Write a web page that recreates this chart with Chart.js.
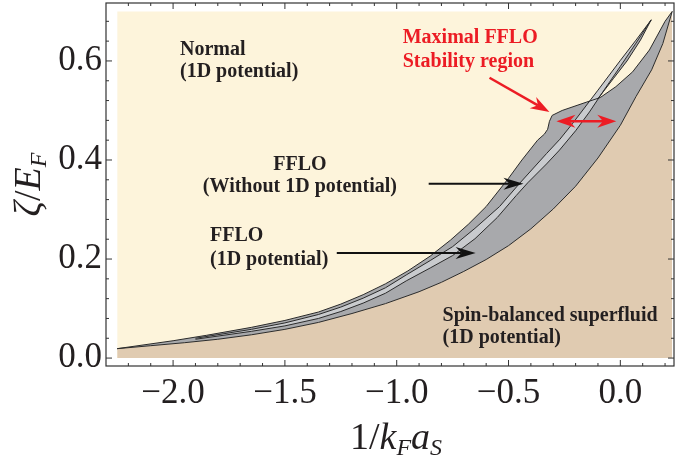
<!DOCTYPE html>
<html><head><meta charset="utf-8">
<script src="https://cdn.jsdelivr.net/npm/chart.js@4.4.1/dist/chart.umd.min.js"></script>
<style>html,body{margin:0;padding:0;background:#fff;}</style>
</head><body>
<canvas id="c" width="676" height="463"></canvas>
<script>
// ---- data ----
// boundary of the spin-balanced superfluid (lower edge of the 1D FFLO region)
const lowerX = [-2.25,-2.1,-1.95,-1.8,-1.65,-1.5,-1.35,-1.2,-1.05,-0.9,-0.8,-0.7,-0.6,-0.5,-0.4,-0.3,-0.2,-0.1,0.0,0.07,0.14,0.19,0.232];
const lowerY = [0.019,0.025,0.031,0.038,0.047,0.058,0.072,0.090,0.110,0.134,0.153,0.175,0.199,0.227,0.261,0.301,0.347,0.404,0.470,0.528,0.582,0.635,0.700];
// upper edge of the FFLO region with 1D potential
const upperX = [-2.25,-2.0,-1.85,-1.65,-1.5,-1.35,-1.25,-1.15,-1.05,-0.95,-0.85,-0.76,-0.68,-0.6,-0.5,-0.44,-0.37,-0.34,-0.325,-0.317,-0.305,-0.26,-0.15,-0.09,-0.02,0.055,0.13,0.2,0.232];
const upperY = [0.019,0.035,0.046,0.062,0.076,0.093,0.109,0.128,0.150,0.176,0.206,0.238,0.270,0.306,0.363,0.400,0.440,0.452,0.462,0.478,0.490,0.500,0.517,0.526,0.548,0.578,0.622,0.680,0.700];
// FFLO band without 1D potential: upper-left edge (A) and lower-right edge (B)
const bandAX = [-1.9,-1.65,-1.5,-1.35,-1.25,-1.15,-1.05,-0.957,-0.85,-0.75,-0.65,-0.54,-0.45,-0.33,-0.27,-0.213,-0.1,0.0,0.07,0.138];
const bandAY = [0.040,0.058,0.071,0.088,0.103,0.121,0.142,0.168,0.197,0.225,0.262,0.306,0.353,0.413,0.442,0.474,0.541,0.601,0.642,0.683];
const bandBX = [-1.9,-1.65,-1.5,-1.35,-1.25,-1.15,-1.05,-0.957,-0.85,-0.75,-0.65,-0.55,-0.466,-0.414,-0.33,-0.272,-0.2,-0.138,-0.07,0.0,0.07,0.138];
const bandBY = [0.038,0.054,0.065,0.080,0.094,0.111,0.131,0.156,0.182,0.207,0.241,0.284,0.328,0.354,0.392,0.420,0.459,0.497,0.543,0.589,0.636,0.683];
// outer edge of the wedge above the 1D region
const wedgeX = [-0.10,-0.03,0.03,0.09,0.138];
const wedgeY = [0.524,0.565,0.600,0.642,0.683];
// region extent
const regionX = [-2.25, 0.232];
const regionTop = 0.70;
// ticks
const xMajorTicks = [-2.0,-1.5,-1.0,-0.5,0.0];
const xMinorTicks = [-2.2,-2.1,-1.9,-1.8,-1.7,-1.6,-1.4,-1.3,-1.2,-1.1,-0.9,-0.8,-0.7,-0.6,-0.4,-0.3,-0.2,-0.1,0.1,0.2];
const yMajorTicks = [0.0,0.2,0.4,0.6];
const yMinorTicks = [0.04,0.08,0.12,0.16,0.24,0.28,0.32,0.36,0.44,0.48,0.52,0.56,0.64,0.68];

const pts = (xs, ys) => xs.map((x, i) => ({x, y: ys[i]}));
const rev = a => a.slice().reverse();

const C_YELLOW = '#fdf4db', C_TAN = '#e0cbb1', C_DARK = '#a8a9ac', C_LIGHT = '#c9cbce', C_LINE = '#2b2b2b';

const fmt = v => (v < 0 ? '\u2212' : '') + Math.abs(v).toFixed(1);

function arrowHead(ctx, x1, y1, x2, y2, len, half) {
  const ang = Math.atan2(y2 - y1, x2 - x1);
  ctx.save(); ctx.translate(x2, y2); ctx.rotate(ang);
  ctx.beginPath(); ctx.moveTo(0, 0); ctx.lineTo(-len, -half); ctx.lineTo(-len * 0.7, 0); ctx.lineTo(-len, half); ctx.closePath(); ctx.fill();
  ctx.restore();
}
function arrow(ctx, x1, y1, x2, y2, color, lw, len, half, both) {
  ctx.save();
  ctx.strokeStyle = color; ctx.fillStyle = color; ctx.lineWidth = lw;
  const d = Math.hypot(x2 - x1, y2 - y1), ux = (x2 - x1) / d, uy = (y2 - y1) / d;
  const sx = both ? x1 + ux * len * 0.7 : x1, sy = both ? y1 + uy * len * 0.7 : y1;
  ctx.beginPath(); ctx.moveTo(sx, sy); ctx.lineTo(x2 - ux * len * 0.7, y2 - uy * len * 0.7); ctx.stroke();
  arrowHead(ctx, x1, y1, x2, y2, len, half);
  if (both) arrowHead(ctx, x2, y2, x1, y1, len, half);
  ctx.restore();
}

const decor = {
  id: 'decor',
  afterDatasetsDraw(chart) {
    const {ctx, chartArea: a, scales: {x, y}} = chart;
    const X = v => x.getPixelForValue(v), Y = v => y.getPixelForValue(v);
    ctx.save();
    ctx.textBaseline = 'middle';
    ctx.font = "bold 20px 'Liberation Serif'";
    ctx.fillStyle = '#231f20';
    ctx.textAlign = 'left';
    ctx.fillText('Normal', X(-1.969), Y(0.622));
    ctx.fillText('(1D potential)', X(-1.969), Y(0.578));
    ctx.fillText('FFLO', X(-1.835), Y(0.246));
    ctx.fillText('(1D potential)', X(-1.835), Y(0.198));
    ctx.fillText('Spin-balanced superfluid', X(-0.795), Y(0.085));
    ctx.fillText('(1D potential)', X(-0.795), Y(0.040));
    ctx.textAlign = 'center';
    ctx.fillText('FFLO', X(-1.433), Y(0.390));
    ctx.fillText('(Without 1D potential)', X(-1.433), Y(0.345));
    ctx.textAlign = 'left';
    ctx.fillStyle = '#ec1c24';
    ctx.fillText('Maximal FFLO', X(-0.973), Y(0.646));
    ctx.fillText('Stability region', X(-0.973), Y(0.598));
    // arrows
    arrow(ctx, X(-0.857), Y(0.352), X(-0.433), Y(0.352), '#111', 2, 20, 6, false);
    arrow(ctx, X(-1.268), Y(0.212), X(-0.647), Y(0.212), '#111', 2, 20, 6, false);
    arrow(ctx, X(-0.585), Y(0.566), X(-0.317), Y(0.497), '#ec1c24', 2.5, 19, 6.5, false);
    arrow(ctx, X(-0.286), Y(0.478), X(-0.018), Y(0.478), '#ec1c24', 2.5, 19, 6.5, true);
    // frame
    ctx.strokeStyle = '#333'; ctx.lineWidth = 1.2;
    ctx.strokeRect(a.left, a.top, a.right - a.left, a.bottom - a.top);
    ctx.lineWidth = 1;
    ctx.beginPath();
    const tx = (v, L) => { const p = X(v); ctx.moveTo(p, a.bottom); ctx.lineTo(p, a.bottom - L); ctx.moveTo(p, a.top); ctx.lineTo(p, a.top + L); };
    const ty = (v, L) => { const p = Y(v); ctx.moveTo(a.left, p); ctx.lineTo(a.left + L, p); ctx.moveTo(a.right, p); ctx.lineTo(a.right - L, p); };
    xMajorTicks.forEach(v => tx(v, 6)); xMinorTicks.forEach(v => tx(v, 3));
    yMajorTicks.forEach(v => ty(v, 6)); yMinorTicks.forEach(v => ty(v, 3));
    ctx.stroke();
    ctx.restore();
  },
  afterDraw(chart) {
    const {ctx, chartArea: a} = chart;
    ctx.save();
    ctx.fillStyle = '#231f20';
    ctx.textBaseline = 'alphabetic';
    const big = 38, sub = 24;
    const drawSegs = (segs, cx, cy) => {
      let w = 0;
      segs.forEach(s => { ctx.font = s.f; s.w = ctx.measureText(s.t).width; w += s.w; });
      let px = cx - w / 2;
      segs.forEach(s => { ctx.font = s.f; ctx.fillText(s.t, px, cy + s.dy); px += s.w; });
    };
    // y title: ζ/E_F
    const segY = [
      {t: '\u03b6', f: `italic ${big}px 'Liberation Serif'`, dy: 0},
      {t: '/', f: `${big}px 'Liberation Serif'`, dy: 0},
      {t: 'E', f: `italic ${big}px 'Liberation Serif'`, dy: 0},
      {t: 'F', f: `italic ${sub}px 'Liberation Serif'`, dy: 6}
    ];
    ctx.save();
    ctx.translate(a.left - 66, (a.top + a.bottom) / 2);
    ctx.rotate(-Math.PI / 2);
    drawSegs(segY, 0, 0);
    ctx.restore();
    // x title: 1/k_F a_S
    const segX = [
      {t: '1/', f: `${big}px 'Liberation Serif'`, dy: 0},
      {t: 'k', f: `italic ${big}px 'Liberation Serif'`, dy: 0},
      {t: 'F', f: `italic ${sub}px 'Liberation Serif'`, dy: 6},
      {t: 'a', f: `italic ${big}px 'Liberation Serif'`, dy: 0},
      {t: 'S', f: `italic ${sub}px 'Liberation Serif'`, dy: 6}
    ];
    drawSegs(segX, (a.left + a.right) / 2 + 6, 449);
    ctx.restore();
  }
};

const lineDs = (data, order) => ({data, borderColor: C_LINE, borderWidth: 1, fill: false, order, pointRadius: 0, tension: 0});

new Chart(document.getElementById('c'), {
  type: 'line',
  data: {
    datasets: [
      // background normal region
      {data: [{x: regionX[0], y: regionTop}, {x: regionX[1], y: regionTop}], borderWidth: 0, backgroundColor: C_YELLOW, fill: 'origin', order: 20, pointRadius: 0},
      // spin-balanced superfluid
      {data: pts(lowerX, lowerY), borderWidth: 0, backgroundColor: C_TAN, fill: 'origin', order: 19, pointRadius: 0, tension: 0},
      // FFLO with 1D potential
      {data: pts(upperX, upperY).concat(rev(pts(lowerX, lowerY))), borderWidth: 0, backgroundColor: C_DARK, fill: 'shape', order: 18, pointRadius: 0, tension: 0},
      // FFLO without 1D potential (light band)
      {data: pts(bandAX, bandAY).concat(rev(pts(bandBX, bandBY))), borderWidth: 0, backgroundColor: C_LIGHT, fill: 'shape', order: 17, pointRadius: 0, tension: 0},
      // dark strip of the wedge
      {data: pts(wedgeX, wedgeY).concat(rev(pts(bandBX, bandBY)).filter(p => p.x >= -0.14)), borderWidth: 0, backgroundColor: C_DARK, fill: 'shape', order: 16, pointRadius: 0, tension: 0},
      lineDs(pts(lowerX, lowerY), 5),
      lineDs(pts(upperX, upperY), 4),
      lineDs(pts(bandAX, bandAY), 3),
      lineDs(pts(bandBX, bandBY), 2),
      lineDs(pts(wedgeX, wedgeY), 1)
    ]
  },
  options: {
    responsive: false, animation: false, events: [], devicePixelRatio: 1,
    layout: {padding: {top: 3, right: 2, left: 0, bottom: 0}},
    plugins: {legend: {display: false}, tooltip: {enabled: false}},
    scales: {
      x: {
        type: 'linear', min: -2.30, max: 0.24,
        grid: {display: false, drawTicks: false}, border: {display: false},
        afterBuildTicks: s => { s.ticks = xMajorTicks.map(v => ({value: v})); },
        ticks: {font: {family: "'Liberation Serif'", size: 35}, color: '#231f20', padding: 7, maxRotation: 0, autoSkip: false, callback: v => fmt(v)},
        afterFit: s => { s.height = 97; s.paddingLeft = 0; s.paddingRight = 0; }
      },
      y: {
        type: 'linear', min: -0.016, max: 0.717,
        grid: {display: false, drawTicks: false}, border: {display: false},
        afterBuildTicks: s => { s.ticks = yMajorTicks.map(v => ({value: v})); },
        ticks: {font: {family: "'Liberation Serif'", size: 35}, color: '#231f20', padding: 4, autoSkip: false, callback: v => v.toFixed(1)},
        afterFit: s => { s.width = 106; s.paddingTop = 0; s.paddingBottom = 0; }
      }
    }
  },
  plugins: [decor]
});
</script>
</body></html>
